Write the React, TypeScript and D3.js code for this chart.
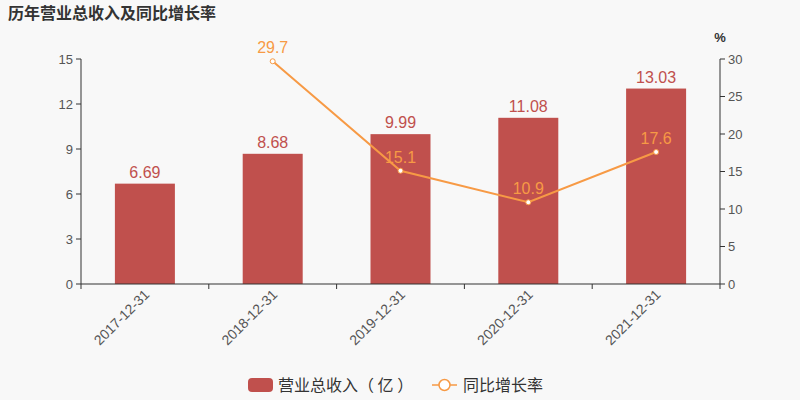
import React from 'react';
import * as d3 from 'd3';

const categories = ['2017-12-31', '2018-12-31', '2019-12-31', '2020-12-31', '2021-12-31'];
const revenue = [6.69, 8.68, 9.99, 11.08, 13.03];
const growth: (number | null)[] = [null, 29.7, 15.1, 10.9, 17.6];
const leftTicks = [0, 3, 6, 9, 12, 15];
const rightTicks = [0, 5, 10, 15, 20, 25, 30];

const W = 800;
const H = 400;
const font = '"Liberation Sans", Arial, "Noto Sans CJK SC", sans-serif';
const cjk = '"Noto Sans CJK SC", sans-serif';
const barColor = '#c0504d';
const lineColor = '#f79a45';
const axisColor = '#333';
const textColor = '#555';

export default function App() {
  const left = 81;
  const right = 720;
  const top = 59;
  const bottom = 284;

  const x = d3.scaleBand().domain(categories).range([left, right]);
  const yL = d3.scaleLinear().domain([0, 15]).range([bottom, top]);
  const yR = d3.scaleLinear().domain([0, 30]).range([bottom, top]);
  const barW = 60;

  const pts = categories
    .map((c, i) => ({ c, v: growth[i] }))
    .filter(d => d.v !== null) as { c: string; v: number }[];
  const line = d3.line<{ c: string; v: number }>()
    .x(d => (x(d.c) as number) + x.bandwidth() / 2)
    .y(d => yR(d.v));

  const bounds = categories.map(c => x(c) as number).concat([right]);

  return (
    <svg width={W} height={H} style={{ position: 'absolute', left: 0, top: 0, background: '#f8f8f8', fontFamily: font }}>
      <rect x={0} y={0} width={W} height={H} fill="#f8f8f8" />
      <text x={8} y={19} fontSize={16} fontWeight="bold" fill="#333" fontFamily={cjk}>历年营业总收入及同比增长率</text>

      {/* left axis */}
      <line x1={left} x2={left} y1={top} y2={bottom} stroke={axisColor} />
      {leftTicks.map(t => (
        <g key={'l' + t}>
          <line x1={left - 5} x2={left} y1={yL(t)} y2={yL(t)} stroke={axisColor} />
          <text x={left - 8} y={yL(t)} dy="0.35em" textAnchor="end" fontSize={13} fill={textColor}>{t}</text>
        </g>
      ))}

      {/* right axis */}
      <line x1={right} x2={right} y1={top} y2={bottom} stroke={axisColor} />
      {rightTicks.map(t => (
        <g key={'r' + t}>
          <line x1={right} x2={right + 5} y1={yR(t)} y2={yR(t)} stroke={axisColor} />
          <text x={right + 8} y={yR(t)} dy="0.35em" textAnchor="start" fontSize={13} fill={textColor}>{t}</text>
        </g>
      ))}
      <text x={720} y={42} textAnchor="middle" fontSize={13} fontWeight="bold" fill="#333">%</text>

      {/* bars */}
      {categories.map((c, i) => {
        const cx = (x(c) as number) + x.bandwidth() / 2;
        return (
          <g key={c}>
            <rect x={cx - barW / 2} y={yL(revenue[i])} width={barW} height={bottom - yL(revenue[i])} fill={barColor} />
            <text x={cx} y={yL(revenue[i]) - 6} textAnchor="middle" fontSize={16} fill={barColor}>{revenue[i].toFixed(2)}</text>
          </g>
        );
      })}

      {/* x axis */}
      <line x1={left} x2={right} y1={bottom} y2={bottom} stroke={axisColor} />
      {bounds.map((b, i) => (
        <line key={'xt' + i} x1={b} x2={b} y1={bottom} y2={bottom + 5} stroke={axisColor} />
      ))}
      {categories.map(c => {
        const cx = (x(c) as number) + x.bandwidth() / 2;
        return (
          <text key={'xl' + c} transform={`translate(${cx + 2},${bottom + 8}) rotate(-45)`} textAnchor="end" dy="0.35em" fontSize={14} fill={textColor}>{c}</text>
        );
      })}

      {/* growth line */}
      <path d={line(pts) || ''} fill="none" stroke={lineColor} strokeWidth={2} />
      {pts.map(d => {
        const cx = (x(d.c) as number) + x.bandwidth() / 2;
        return (
          <g key={'p' + d.c}>
            <circle cx={cx} cy={yR(d.v)} r={2.5} fill="#fff" stroke={lineColor} strokeWidth={1} />
            <text x={cx} y={yR(d.v) - 8} textAnchor="middle" fontSize={16} fill={lineColor}>{d.v.toFixed(1)}</text>
          </g>
        );
      })}

      {/* legend */}
      <rect x={248} y={378} width={25} height={14} rx={4} fill={barColor} />
      <text x={278} y={385} dy="0.35em" fontSize={16} fill="#333" fontFamily={cjk}>营业总收入（ 亿 ）</text>
      <line x1={432} x2={457} y1={385} y2={385} stroke={lineColor} strokeWidth={1.5} />
      <circle cx={444.5} cy={385} r={5.5} fill="#fff" stroke={lineColor} strokeWidth={1.5} />
      <text x={463} y={385} dy="0.35em" fontSize={16} fill="#333" fontFamily={cjk}>同比增长率</text>
    </svg>
  );
}
